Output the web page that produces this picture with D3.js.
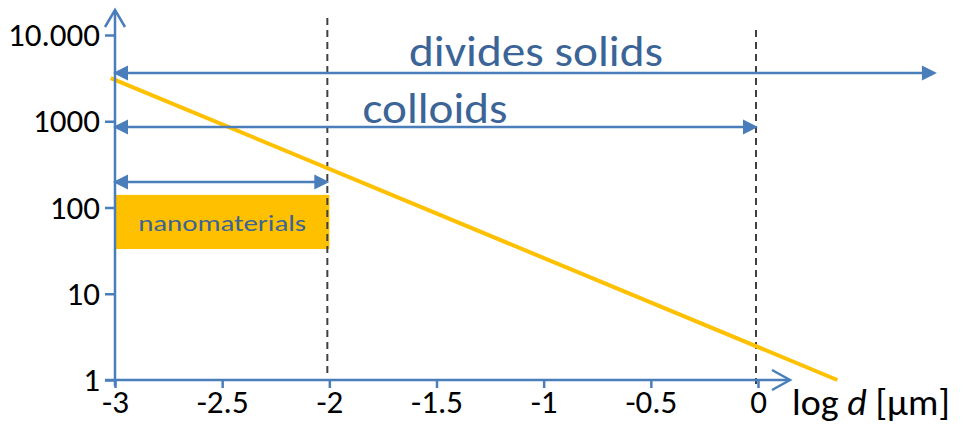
<!DOCTYPE html>
<html>
<head>
<meta charset="utf-8">
<script src="https://cdn.jsdelivr.net/npm/d3@7"></script>
<style>
  html, body { margin: 0; padding: 0; background: #fff; }
  svg { display: block; font-family: Calibri, Carlito, "Open Sans", Lato, sans-serif; }
</style>
</head>
<body>
<svg id="chart" width="968" height="425"></svg>
<script>
// ---- data ----
const xTicks = [-3, -2.5, -2, -1.5, -1, -0.5, 0];
const xTickLabels = ["-3", "-2.5", "-2", "-1.5", "-1", "-0.5", "0"];
const yTicks = [1, 10, 100, 1000, 10000];
const yTickLabels = ["1", "10", "100", "1000", "10.000"];

// surface-to-volume trend line (log d, value)
const trendX = [-3.02, 0.37];
const trendY = [3170, 1];

// size classes (log d ranges)
const rangeLabels = ["divides solids", "colloids", ""];
const rangeFrom = [-3, -3, -3];
const rangeTo = [0.835, 0, -2];

// boundaries shown as dashed lines
const boundaries = [-2, 0];

// nanomaterials band
const bandLabel = "nanomaterials";
const bandX = [-3, -2];
const bandY = [33, 140];

// ---- layout ----
const W = 968, H = 425;
const axisX0 = 115, axisY0 = 380;
const blue = "#4A7EBB", textBlue = "#3B6497", gold = "#FFC000";
const fontStack = "Calibri, Carlito, 'Open Sans', Lato, sans-serif";
const rowY = [73, 127, 182];       // arrow rows
const labelPos = [[536, 66], [435, 123]];

const svg = d3.select("#chart");

const x = d3.scaleLinear().domain([-3, 0]).range([axisX0, 758]);
const y = d3.scaleLog().domain([1, 10000]).range([axisY0, 35]);

// nanomaterials band
svg.append("rect")
  .attr("x", x(bandX[0]))
  .attr("y", y(bandY[1]))
  .attr("width", x(bandX[1]) - x(bandX[0]))
  .attr("height", y(bandY[0]) - y(bandY[1]))
  .attr("fill", gold);
svg.append("text")
  .attr("x", (x(bandX[0]) + x(bandX[1])) / 2)
  .attr("y", 231)
  .attr("text-anchor", "middle")
  .attr("font-size", 23)
  .attr("fill", textBlue)
  .attr("textLength", 168)
  .attr("lengthAdjust", "spacingAndGlyphs")
  .text(bandLabel);

// dashed boundaries
const dashTop = [18, 30], dashBottom = [374, 384];
boundaries.forEach((b, i) => {
  svg.append("line")
    .attr("x1", x(b) - 2).attr("x2", x(b) - 2)
    .attr("y1", dashTop[i]).attr("y2", dashBottom[i])
    .attr("stroke", "#404040")
    .attr("stroke-width", 2)
    .attr("stroke-dasharray", "7,5");
});

// trend line
svg.append("line")
  .attr("x1", x(trendX[0])).attr("y1", y(trendY[0]))
  .attr("x2", x(trendX[1])).attr("y2", y(trendY[1]))
  .attr("stroke", gold)
  .attr("stroke-width", 4);

// filled arrowhead helper (tip at (tx,ty), pointing dir = +1 right / -1 left)
function head(tx, ty, dir) {
  const L = 15, hw = 7.5;
  svg.append("path")
    .attr("d", `M${tx},${ty} L${tx - dir * L},${ty - hw} L${tx - dir * L},${ty + hw} Z`)
    .attr("fill", blue);
}

// range arrows
rangeFrom.forEach((f, i) => {
  const x1 = x(f) - 2, x2 = x(rangeTo[i]);
  const yy = rowY[i];
  svg.append("line")
    .attr("x1", x1 + 10).attr("x2", x2 - 10)
    .attr("y1", yy).attr("y2", yy)
    .attr("stroke", blue).attr("stroke-width", 2.5);
  head(x1, yy, -1);
  head(x2, yy, 1);
});
labelPos.forEach((p, i) => {
  svg.append("text")
    .attr("x", p[0]).attr("y", p[1])
    .attr("text-anchor", "middle")
    .attr("font-size", 43)
    .attr("fill", textBlue)
    .attr("textLength", i === 0 ? 254 : 145)
    .attr("lengthAdjust", "spacingAndGlyphs")
    .text(rangeLabels[i]);
});

// y axis
const yAxis = d3.axisLeft(y)
  .tickValues(yTicks)
  .tickFormat((d, i) => yTickLabels[i])
  .tickSize(10)
  .tickPadding(5);
const gy = svg.append("g").attr("transform", `translate(${axisX0},0)`).call(yAxis);
gy.attr("font-family", fontStack).attr("font-size", 33);
gy.select(".domain").remove();
gy.selectAll(".tick line").attr("stroke", blue).attr("stroke-width", 2.5);
gy.selectAll(".tick text").attr("fill", "#000");

// x axis
const xAxis = d3.axisBottom(x)
  .tickValues(xTicks)
  .tickFormat((d, i) => xTickLabels[i])
  .tickSize(8)
  .tickPadding(2);
const gx = svg.append("g").attr("transform", `translate(0,${axisY0})`).call(xAxis);
gx.attr("font-family", fontStack).attr("font-size", 33);
gx.select(".domain").remove();
gx.selectAll(".tick line").attr("stroke", blue).attr("stroke-width", 2.5);
gx.selectAll(".tick text").attr("fill", "#000");

// axis lines with open arrowheads
svg.append("line")
  .attr("x1", axisX0).attr("x2", axisX0)
  .attr("y1", 386).attr("y2", 10)
  .attr("stroke", blue).attr("stroke-width", 2.5);
svg.append("path")
  .attr("d", `M${axisX0 - 10},27 L${axisX0},10 L${axisX0 + 10},27`)
  .attr("fill", "none").attr("stroke", blue).attr("stroke-width", 2.5);

svg.append("line")
  .attr("x1", 105).attr("x2", 790)
  .attr("y1", axisY0).attr("y2", axisY0)
  .attr("stroke", blue).attr("stroke-width", 2.5);
svg.append("path")
  .attr("d", `M772,370 L790,${axisY0} L772,390`)
  .attr("fill", "none").attr("stroke", blue).attr("stroke-width", 2.5);

// x axis title
const title = svg.append("text")
  .attr("x", 792).attr("y", 415)
  .attr("font-size", 36)
  .attr("fill", "#000")
  .attr("textLength", 158)
  .attr("lengthAdjust", "spacingAndGlyphs");
title.append("tspan").text("log ");
title.append("tspan").attr("font-style", "italic").text("d");
title.append("tspan").text(" [µm]");
</script>
</body>
</html>
